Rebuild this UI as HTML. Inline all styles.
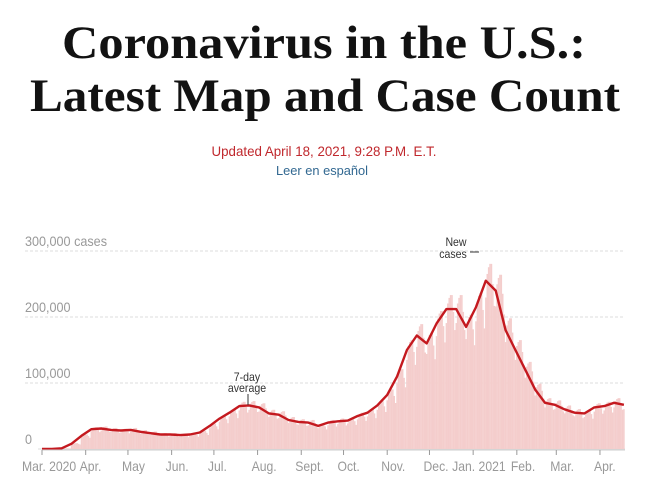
<!DOCTYPE html>
<html><head><meta charset="utf-8"><style>
body{margin:0;background:#fff;}
svg{display:block;}
text{font-family:"Liberation Sans",sans-serif;}
</style></head><body>
<svg id="chart" width="646" height="498" viewBox="0 0 646 498">
<text x="324" y="58" text-anchor="middle" textLength="524" lengthAdjust="spacingAndGlyphs" style="font-family:'Liberation Serif',serif;font-weight:bold;font-size:47px;fill:#121212">Coronavirus in the U.S.:</text>
<text x="325" y="111" text-anchor="middle" textLength="590" lengthAdjust="spacingAndGlyphs" style="font-family:'Liberation Serif',serif;font-weight:bold;font-size:47px;fill:#121212">Latest Map and Case Count</text>
<text x="324" y="156" text-anchor="middle" textLength="225" lengthAdjust="spacingAndGlyphs" style="font-size:14px;fill:#c0282d">Updated April 18, 2021, 9:28 P.M. E.T.</text>
<text x="322" y="175" text-anchor="middle" textLength="92" lengthAdjust="spacingAndGlyphs" style="font-size:13px;fill:#326891">Leer en español</text>
<g id="grid"></g><g id="bars"></g><g id="line"></g><g id="axis"></g>
<text class="sq" x="247" y="381" text-anchor="middle" style="font-size:12px;fill:#333">7-day</text>
<text class="sq" x="247" y="392" text-anchor="middle" style="font-size:12px;fill:#333">average</text>
<line x1="248" y1="394" x2="248" y2="405" stroke="#333" stroke-width="1"/>
<text class="sq" x="456" y="246" text-anchor="middle" style="font-size:12px;fill:#333">New</text>
<text class="sq" x="453" y="258" text-anchor="middle" style="font-size:12px;fill:#333">cases</text>
<line x1="470" y1="252" x2="479" y2="252" stroke="#333" stroke-width="1"/>
</svg>
<script>
// weekly 7-day average (thousands), weeks starting Mar 1 2020
const weeklyAvg=[0,0.1,1,8,20,30,31,29,28,29,26,24,22,22,21,22,25,35,46,55,65,66,63,54,52,44,41,40,35,40,42,43,50,55,66,82,110,150,172,160,190,212,212,185,215,255,240,180,150,120,90,70,67,60,55,54,63,65,70,67];
const dayFactor=[0.9,1.04,1.08,1.1,1.1,0.98,0.85];
const yTicks=[0,100,200,300];
const yTickLabels=["0","100,000","200,000","300,000 cases"];
const monthLabels=["Mar. 2020","Apr.","May","Jun.","Jul.","Aug.","Sept.","Oct.","Nov.","Dec.","Jan. 2021","Feb.","Mar.","Apr."];
const monthDays=[0,31,61,92,122,153,184,214,245,275,306,337,365,396];
const NS="http://www.w3.org/2000/svg";
const X=d=>42+d*1.409, Y=v=>449-v*0.66;
function mk(t,a,p){const e=document.createElementNS(NS,t);for(const k in a)e.setAttribute(k,a[k]);document.getElementById(p).appendChild(e);return e;}
function squeeze(t,f){const w=t.getComputedTextLength();t.setAttribute('textLength',(w*f).toFixed(1));t.setAttribute('lengthAdjust','spacingAndGlyphs');}
yTicks.forEach((v,i)=>{
 const l=mk('line',{x1:i?25:38,x2:625,y1:Y(v),y2:Y(v),stroke:'#ddd','stroke-dasharray':i?'3,2':'',"stroke-width":1},'grid');
 
 
 const t=mk('text',{x:25,y:Y(v)-5,style:'font-size:14px;fill:#999'},'grid');t.textContent=yTickLabels[i];
 
 
 squeeze(t,0.9);
});
for(let w=0;w<weeklyAvg.length;w++){for(let d=0;d<7;d++){const day=w*7+d;if(day>413)break;
 const v=weeklyAvg[w]*dayFactor[d];
 const b=mk('rect',{x:X(day)-0.75,y:Y(v),width:1.5,height:449-Y(v),fill:'#f4cdcc'},'bars');
 
 }}
const pts=weeklyAvg.map((v,w)=>X(Math.min(w*7,413)).toFixed(1)+','+Y(v).toFixed(1)).join(' ');
const pl=mk('polyline',{points:pts,fill:'none',stroke:'#c4191f','stroke-width':2.4,'stroke-linejoin':'round'},'line');


const ax=mk('line',{x1:42,x2:625,y1:450,y2:450,stroke:'#ccc'},'axis');


monthDays.forEach((d,i)=>{
 const tk=mk('line',{x1:X(d),x2:X(d),y1:450,y2:455,stroke:'#999'},'axis');
 
 
 const off=i==0?-20:(i==10?-21:-6);
 const t=mk('text',{x:X(d)+off,y:471,style:'font-size:14px;fill:#999'},'axis');
 t.textContent=monthLabels[i];
 
 
 squeeze(t,0.87);
});
document.querySelectorAll('text.sq').forEach(t=>squeeze(t,0.88));
</script>
</body></html>
